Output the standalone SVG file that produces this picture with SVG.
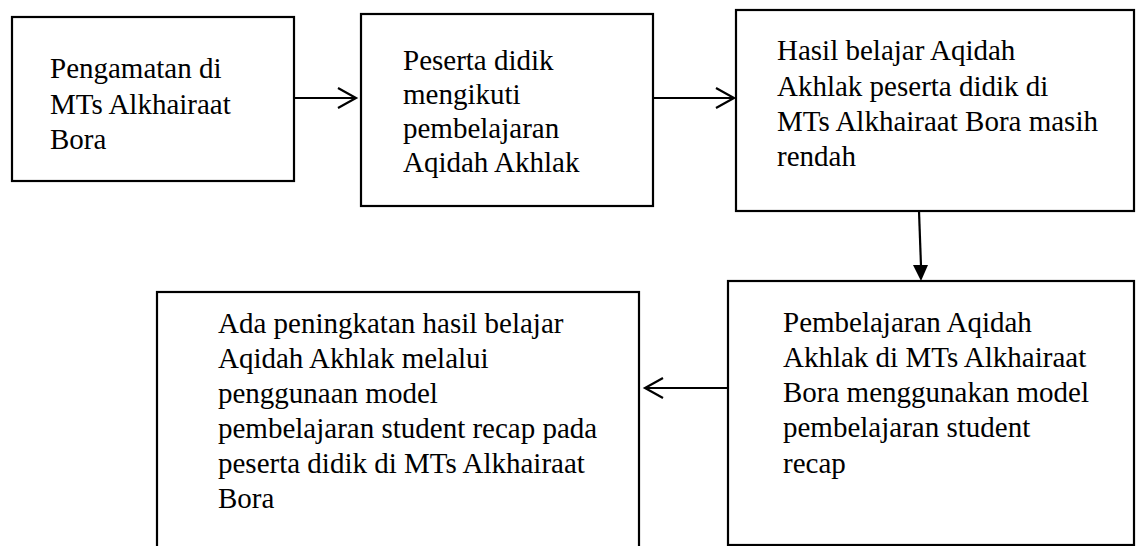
<svg xmlns="http://www.w3.org/2000/svg" width="1144" height="546" viewBox="0 0 1144 546">
<style>
.box{fill:#fff;stroke:#000;stroke-width:2.2}
.t{font-family:"Liberation Serif","Times New Roman",serif;font-size:29px;fill:#000}
.ln{fill:none;stroke:#000;stroke-width:2.2}
.open{fill:none;stroke:#000;stroke-width:2.2;stroke-linejoin:miter}
.solid{fill:#000;stroke:none}
</style>
<rect width="1144" height="546" fill="#fff"/>
<g id="n1">
<rect class="box" x="12" y="17" width="282" height="164"/>
<text class="t" x="50" y="78">Pengamatan di</text>
<text class="t" x="50" y="114">MTs Alkhairaat</text>
<text class="t" x="50" y="149">Bora</text>
</g>
<g id="n2">
<rect class="box" x="361" y="14" width="292" height="192"/>
<text class="t" x="403" y="70">Peserta didik</text>
<text class="t" x="403" y="104">mengikuti</text>
<text class="t" x="403" y="138">pembelajaran</text>
<text class="t" x="403" y="172">Aqidah Akhlak</text>
</g>
<g id="n3">
<rect class="box" x="736" y="10" width="398" height="201"/>
<text class="t" x="777" y="60">Hasil belajar Aqidah</text>
<text class="t" x="777" y="96">Akhlak peserta didik di</text>
<text class="t" x="777" y="131">MTs Alkhairaat Bora masih</text>
<text class="t" x="777" y="166">rendah</text>
</g>
<g id="n4">
<rect class="box" x="728" y="281" width="406" height="264"/>
<text class="t" x="783" y="332">Pembelajaran Aqidah</text>
<text class="t" x="783" y="367">Akhlak di MTs Alkhairaat</text>
<text class="t" x="783" y="402">Bora menggunakan model</text>
<text class="t" x="783" y="437">pembelajaran student</text>
<text class="t" x="783" y="473">recap</text>
</g>
<g id="n5">
<rect class="box" x="157" y="292" width="482" height="280"/>
<text class="t" x="218" y="333">Ada peningkatan hasil belajar</text>
<text class="t" x="218" y="368">Aqidah Akhlak melalui</text>
<text class="t" x="218" y="403">penggunaan model</text>
<text class="t" x="218" y="438">pembelajaran student recap pada</text>
<text class="t" x="218" y="473">peserta didik di MTs Alkhairaat</text>
<text class="t" x="218" y="508">Bora</text>
</g>
<g id="connectors">
<line class="ln" x1="294" y1="98" x2="356" y2="98"/>
<path class="open" d="M338 88 L356 98 L338 108"/>
<line class="ln" x1="653" y1="98" x2="734" y2="98"/>
<path class="open" d="M716 88 L734 98 L716 108"/>
<line class="ln" x1="919" y1="211" x2="921" y2="266"/>
<path class="solid" d="M913 265 L928 265 L921 281 Z"/>
<line class="ln" x1="728" y1="388" x2="645" y2="388"/>
<path class="open" d="M663 378 L645 388 L663 398"/>
</g>
</svg>
